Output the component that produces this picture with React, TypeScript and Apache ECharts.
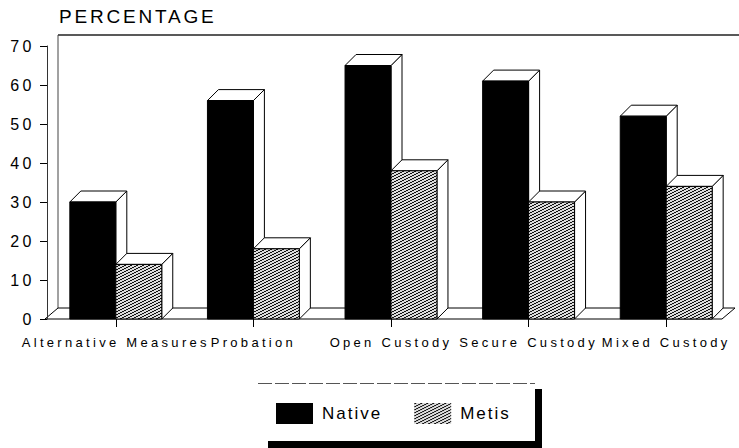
import React, { useEffect, useRef } from 'react';
import * as echarts from 'echarts';

const categories = ['Alternative Measures', 'Probation', 'Open Custody', 'Secure Custody', 'Mixed Custody'];
const nativeValues = [30, 56, 65, 61, 52];
const metisValues = [14, 18, 38, 30, 34];
const seriesNames = ['Native', 'Metis'];
const yMin = 0;
const yMax = 70;
const yInterval = 10;

const FONT = '"Liberation Sans", Arial, Helvetica, sans-serif';
const DEPTH = 11;
const BAR_RATIO = 0.334;

function makeHatch(): HTMLCanvasElement {
  const c = document.createElement('canvas');
  c.width = 6;
  c.height = 3;
  const ctx = c.getContext('2d')!;
  ctx.fillStyle = '#dcdcdc';
  ctx.fillRect(0, 0, 6, 3);
  ctx.fillStyle = '#111';
  for (let y = 0; y < 3; y++) {
    for (let x = 0; x < 6; x++) {
      if ((x + 2 * y) % 6 < 2) ctx.fillRect(x, y, 1, 1);
    }
  }
  return c;
}

const CSS = `
.chart-root text { letter-spacing: 3px; }
.chart-root text[style*="19px"] { letter-spacing: 2.8px; }
.chart-root text[style*="16px"] { letter-spacing: 3.5px; }
.chart-root text[style*="13px"] { letter-spacing: 3.3px; }
.chart-root text[style*="17px"] { letter-spacing: 2px; }
`;

export default function App() {
  const ref = useRef<HTMLDivElement>(null);

  useEffect(() => {
    if (!ref.current) return;
    const chart = echarts.init(ref.current, undefined, { renderer: 'svg' });
    const hatch = { image: makeHatch(), repeat: 'repeat' } as any;

    const makeRender = (side: 'left' | 'right', fill: any) => (params: any, api: any) => {
      const cat = api.value(0);
      const v = api.value(1);
      const top = api.coord([cat, v]);
      const base = api.coord([cat, 0]);
      const w = api.size([1, 0])[0] * BAR_RATIO;
      const x0 = side === 'left' ? top[0] - w : top[0];
      const y1 = top[1];
      const y0 = base[1];
      const d = DEPTH;
      return {
        type: 'group',
        children: [
          {
            type: 'polygon',
            shape: { points: [[x0 + w, y1], [x0 + w + d, y1 - d], [x0 + w + d, y0 - d], [x0 + w, y0]] },
            style: { fill: '#fff', stroke: '#000', lineWidth: 1 },
          },
          {
            type: 'polygon',
            shape: { points: [[x0, y1], [x0 + d, y1 - d], [x0 + w + d, y1 - d], [x0 + w, y1]] },
            style: { fill: '#fff', stroke: '#000', lineWidth: 1 },
          },
          {
            type: 'rect',
            shape: { x: x0, y: y1, width: w, height: y0 - y1 },
            style: { fill, stroke: '#000', lineWidth: 1 },
          },
        ],
      };
    };

    const option: any = {
      animation: false,
      backgroundColor: '#fff',
      title: {
        text: 'PERCENTAGE',
        left: 59,
        top: 7,
        padding: 0,
        textStyle: { fontSize: 19, fontWeight: 'normal', color: '#000', fontFamily: FONT },
      },
      grid: { left: 47, right: 4, top: 46, bottom: 129, containLabel: false },
      xAxis: {
        type: 'category',
        data: categories,
        boundaryGap: true,
        axisLine: { show: false },
        axisTick: { show: true, alignWithLabel: true, length: 8, lineStyle: { color: '#000' } },
        axisLabel: { interval: 0, margin: 17, fontSize: 13, color: '#000', fontFamily: FONT },
        splitLine: { show: false },
      },
      yAxis: {
        type: 'value',
        min: yMin,
        max: yMax,
        interval: yInterval,
        axisLine: { show: true, lineStyle: { color: '#333', width: 1 } },
        axisTick: { show: true, length: 7, lineStyle: { color: '#000' } },
        axisLabel: { margin: 12, fontSize: 16, color: '#000', fontFamily: FONT },
        splitLine: { show: false },
      },
      legend: {
        left: 276,
        top: 403,
        padding: 0,
        itemWidth: 37,
        itemHeight: 21,
        itemGap: 44,
        icon: 'rect',
        textStyle: { fontSize: 17, color: '#000', fontFamily: FONT, padding: [5, 0, 0, 4] },
        data: [
          { name: seriesNames[0], itemStyle: { color: '#000' } },
          { name: seriesNames[1], itemStyle: { color: hatch } },
        ],
      },
      graphic: [
        // back wall
        { type: 'line', shape: { x1: 58, y1: 35, x2: 739, y2: 35 }, style: { stroke: '#222', lineWidth: 1.5 }, z: 0 },
        { type: 'line', shape: { x1: 58, y1: 35, x2: 58, y2: 308 }, style: { stroke: '#444', lineWidth: 1 }, z: 0 },
        // floor
        {
          type: 'polygon',
          shape: { points: [[45, 319], [58, 308], [735, 308], [722, 319]] },
          style: { fill: '#fff', stroke: '#000', lineWidth: 1 },
          z: 0,
        },
        // legend box with shadow
        { type: 'rect', shape: { x: 268, y: 389, width: 274, height: 70 }, style: { fill: '#000' }, z: 0 },
        { type: 'rect', shape: { x: 261, y: 383, width: 274, height: 58 }, style: { fill: '#fff' }, z: 0 },
        { type: 'line', shape: { x1: 258, y1: 383.5, x2: 535, y2: 383.5 }, style: { stroke: '#555', lineWidth: 1, lineDash: [14, 3] }, z: 0 },
      ],
      series: [
        {
          name: seriesNames[0],
          type: 'custom',
          renderItem: makeRender('left', '#000'),
          itemStyle: { color: '#000' },
          encode: { x: 0, y: 1 },
          data: nativeValues.map((v, i) => [i, v]),
          z: 2,
        },
        {
          name: seriesNames[1],
          type: 'custom',
          renderItem: makeRender('right', hatch),
          itemStyle: { color: hatch },
          encode: { x: 0, y: 1 },
          data: metisValues.map((v, i) => [i, v]),
          z: 3,
        },
      ],
    };

    chart.setOption(option);
    return () => chart.dispose();
  }, []);

  return (
    <>
      <style>{CSS}</style>
      <div
        ref={ref}
        className="chart-root"
        style={{ position: 'fixed', left: 0, top: 0, width: 739, height: 448, background: '#fff' }}
      />
    </>
  );
}
